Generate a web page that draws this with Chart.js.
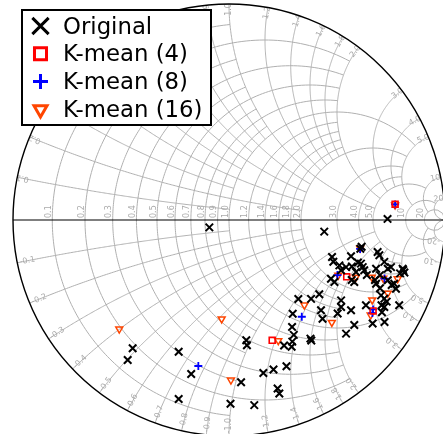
<!DOCTYPE html>
<html>
<head>
<meta charset="utf-8">
<script src="https://cdn.jsdelivr.net/npm/chart.js"></script>
<style>
  html, body { margin: 0; padding: 0; background: #fff; }
  .chart-area { position: relative; width: 443px; height: 434px; }
</style>
</head>
<body>
<div class="chart-area"><canvas id="smith"></canvas></div>
<script>
// reflection coefficient of every sample, real / imaginary part
const originalRe = [-0.091, 0.441, 0.734, -0.446, -0.469, -0.233, -0.175, -0.233, 0.007, 0.117, 0.056, 0.080, 0.083, 0.159, 0.206, 0.266, 0.225, 0.233, 0.255, 0.290, 0.293, 0.300, 0.292, 0.295, 0.321, 0.377, 0.381, 0.380, 0.418, 0.426, 0.433, 0.503, 0.519, 0.519, 0.565, 0.580, 0.542, 0.665, 0.720, 0.708, 0.706, 0.719, 0.719, 0.704, 0.634, 0.788, 0.681, 0.735, 0.765, 0.773, 0.699, 0.580, 0.568, 0.472, 0.488, 0.676, 0.699, 0.807, 0.812, 0.792, 0.750, 0.735, 0.719, 0.681, 0.638, 0.626, 0.619, 0.611, 0.588, 0.542, 0.519, 0.511, 0.483, 0.477, 0.565, 0.608, 0.614, 0.688, 0.696, 0.804, 0.730, 0.753, 0.569, 0.597];
const originalIm = [-0.034, -0.054, 0.005, -0.594, -0.648, -0.610, -0.713, -0.829, -0.851, -0.857, -0.751, -0.557, -0.580, -0.708, -0.692, -0.677, -0.780, -0.803, -0.581, -0.587, -0.563, -0.532, -0.495, -0.434, -0.366, -0.549, -0.558, -0.365, -0.344, -0.418, -0.457, -0.433, -0.372, -0.403, -0.418, -0.486, -0.526, -0.479, -0.472, -0.427, -0.395, -0.403, -0.364, -0.349, -0.395, -0.395, -0.295, -0.279, -0.295, -0.318, -0.316, -0.287, -0.278, -0.272, -0.287, -0.278, -0.255, -0.232, -0.243, -0.247, -0.218, -0.226, -0.194, -0.226, -0.255, -0.233, -0.218, -0.202, -0.241, -0.218, -0.233, -0.210, -0.193, -0.171, -0.168, -0.133, -0.124, -0.148, -0.163, -0.226, -0.378, -0.301, -0.215, -0.197];

const k4Re = [0.200, 0.545, 0.667, 0.769];
const k4Im = [-0.557, -0.263, -0.421, 0.073];

const k8Re = [-0.142, 0.337, 0.667, 0.664, 0.769, 0.720, 0.502, 0.607];
const k8Im = [-0.676, -0.448, -0.414, -0.431, 0.072, -0.271, -0.255, -0.134];

const k16Re = [-0.508, -0.034, 0.009, 0.228, 0.349, 0.476, 0.506, 0.587, 0.661, 0.714, 0.781, 0.735, 0.663, 0.656, 0.769, 0.607];
const k16Im = [-0.505, -0.458, -0.741, -0.559, -0.394, -0.474, -0.256, -0.265, -0.265, -0.270, -0.272, -0.339, -0.370, -0.440, 0.069, -0.131];

// normalised resistance / reactance grid values and their labels
const gridTicks = [0.1, 0.2, 0.3, 0.4, 0.5, 0.6, 0.7, 0.8, 0.9, 1.0, 1.2, 1.4, 1.6, 1.8, 2.0, 3.0, 4.0, 5.0, 10, 20];
const tickLabels = ['0.1', '0.2', '0.3', '0.4', '0.5', '0.6', '0.7', '0.8', '0.9', '1.0', '1.2', '1.4', '1.6', '1.8', '2.0', '3.0', '4.0', '5.0', '10', '20'];

const seriesNames = ['Original', 'K-mean (4)', 'K-mean (8)', 'K-mean (16)'];

const toPoints = (re, im) => re.map((v, i) => ({ x: v, y: im[i] }));

// z = r + jx  ->  gamma
function gamma(r, x) {
  const d = (r + 1) * (r + 1) + x * x;
  return [(r * r - 1 + x * x) / d, 2 * x / d];
}

// fine lines stop early, coarse ones run on (fancy grid)
function lineEnd(v) {
  if (v >= 20) return Infinity;
  if (v >= 10) return 20;
  if (v >= 5) return 10;
  if (v >= 2) return 5;
  if (v === 1) return 5;
  if (v > 1) return 2;
  return Math.round(v * 10) % 2 === 0 ? 2 : 1;
}

function strokeCurve(ctx, sx, sy, fn, a, b) {
  const sa = Math.atan(a), sb = Math.atan(b), n = 180;
  ctx.beginPath();
  for (let i = 0; i <= n; i++) {
    const g = fn(Math.tan(sa + (sb - sa) * i / n));
    const X = sx.getPixelForValue(g[0]), Y = sy.getPixelForValue(g[1]);
    if (i === 0) ctx.moveTo(X, Y); else ctx.lineTo(X, Y);
  }
  ctx.stroke();
}

const smithGrid = {
  id: 'smithGrid',
  beforeDatasetsDraw(chart) {
    const { ctx } = chart;
    const sx = chart.scales.x, sy = chart.scales.y;
    const cx = sx.getPixelForValue(0), cy = sy.getPixelForValue(0);
    const rx = sx.getPixelForValue(1) - cx, ry = cy - sy.getPixelForValue(1);

    ctx.save();
    ctx.beginPath();
    ctx.ellipse(cx, cy, rx, ry, 0, 0, Math.PI * 2);
    ctx.clip();

    ctx.strokeStyle = '#b0b0b0';
    ctx.lineWidth = 1;
    gridTicks.forEach(v => {
      const end = lineEnd(v);
      strokeCurve(ctx, sx, sy, t => gamma(v, t), -end, end);
      strokeCurve(ctx, sx, sy, t => gamma(t, v), 0, end);
      strokeCurve(ctx, sx, sy, t => gamma(t, -v), 0, end);
    });

    // labels
    ctx.fillStyle = '#aaaaaa';
    ctx.font = '8px "DejaVu Sans"';
    ctx.textAlign = 'left';
    ctx.textBaseline = 'middle';
    gridTicks.forEach((v, i) => {
      const g = gamma(v, 0);
      ctx.save();
      ctx.translate(sx.getPixelForValue(g[0]) - 3.5, cy - 2);
      ctx.rotate(-Math.PI / 2);
      ctx.fillText(tickLabels[i], 0, 0);
      ctx.restore();
    });
    ctx.textAlign = 'center';
    gridTicks.forEach((v, i) => {
      [1, -1].forEach(s => {
        const g = gamma(0, s * v);
        const th = Math.atan2(g[1], g[0]);
        const k = s > 0 ? 0.975 : 0.952;
        ctx.save();
        ctx.translate(sx.getPixelForValue(k * Math.cos(th)), sy.getPixelForValue(k * Math.sin(th)));
        ctx.rotate(s > 0 ? -th : -(th + Math.PI));
        ctx.fillText((s > 0 ? '' : '-') + tickLabels[i], 0, 0);
        ctx.restore();
      });
    });
    ctx.restore();

    // real axis and outer circle
    ctx.save();
    ctx.strokeStyle = '#000';
    ctx.lineWidth = 1.2;
    ctx.beginPath();
    ctx.moveTo(cx - rx, cy);
    ctx.lineTo(cx + rx, cy);
    ctx.stroke();
    ctx.lineWidth = 1.4;
    ctx.beginPath();
    ctx.ellipse(cx, cy, rx, ry, 0, 0, Math.PI * 2);
    ctx.stroke();
    ctx.restore();
  }
};

const legendBox = {
  id: 'legendBox',
  afterDraw(chart) {
    const { ctx } = chart;
    ctx.save();
    ctx.fillStyle = '#fff';
    ctx.fillRect(22, 10, 189, 115);
    ctx.strokeStyle = '#000';
    ctx.lineWidth = 2;
    ctx.strokeRect(22, 10, 189, 115);
    chart.data.datasets.forEach((ds, i) => {
      const y = 26 + i * 27.8;
      ctx.strokeStyle = ds.borderColor;
      ctx.fillStyle = 'rgba(0,0,0,0)';
      ctx.lineWidth = 3;
      Chart.helpers.drawPoint(ctx, {
        pointStyle: ds.pointStyle,
        radius: ds.legendRadius,
        rotation: ds.rotation || 0,
        borderWidth: 3
      }, 40.5, y);
      ctx.fillStyle = '#000';
      ctx.font = '22.8px "DejaVu Sans"';
      ctx.textAlign = 'left';
      ctx.textBaseline = 'alphabetic';
      ctx.fillText(seriesNames[i], 63, y + 7.5);
    });
    ctx.restore();
  }
};

const W = 443, H = 434, CX = 229, CY = 220, RAD = 216;

new Chart(document.getElementById('smith'), {
  type: 'scatter',
  data: {
    datasets: [
      { label: seriesNames[0], data: toPoints(originalRe, originalIm), pointStyle: 'crossRot', radius: 5.3, legendRadius: 11.5,
        borderColor: '#000', backgroundColor: '#000', borderWidth: 2 },
      { label: seriesNames[1], data: toPoints(k4Re, k4Im), pointStyle: 'rect', radius: 4.2, legendRadius: 8.5,
        borderColor: '#ff0000', backgroundColor: 'rgba(0,0,0,0)', borderWidth: 1.6 },
      { label: seriesNames[2], data: toPoints(k8Re, k8Im), pointStyle: 'cross', radius: 4, legendRadius: 7.5,
        borderColor: '#0000ff', backgroundColor: '#0000ff', borderWidth: 1.8 },
      { label: seriesNames[3], data: toPoints(k16Re, k16Im), pointStyle: 'triangle', rotation: 180, radius: 4, legendRadius: 7.5,
        borderColor: '#ff4500', backgroundColor: 'rgba(0,0,0,0)', borderWidth: 1.5 }
    ]
  },
  options: {
    responsive: true,
    maintainAspectRatio: false,
    animation: false,
    layout: { padding: 0, autoPadding: false },
    plugins: { legend: { display: false }, tooltip: { enabled: false } },
    scales: {
      x: { type: 'linear', display: false, min: -CX / RAD, max: (W - CX) / RAD },
      y: { type: 'linear', display: false, min: -(H - CY) / RAD, max: CY / RAD }
    }
  },
  plugins: [smithGrid, legendBox]
});
</script>
</body>
</html>
